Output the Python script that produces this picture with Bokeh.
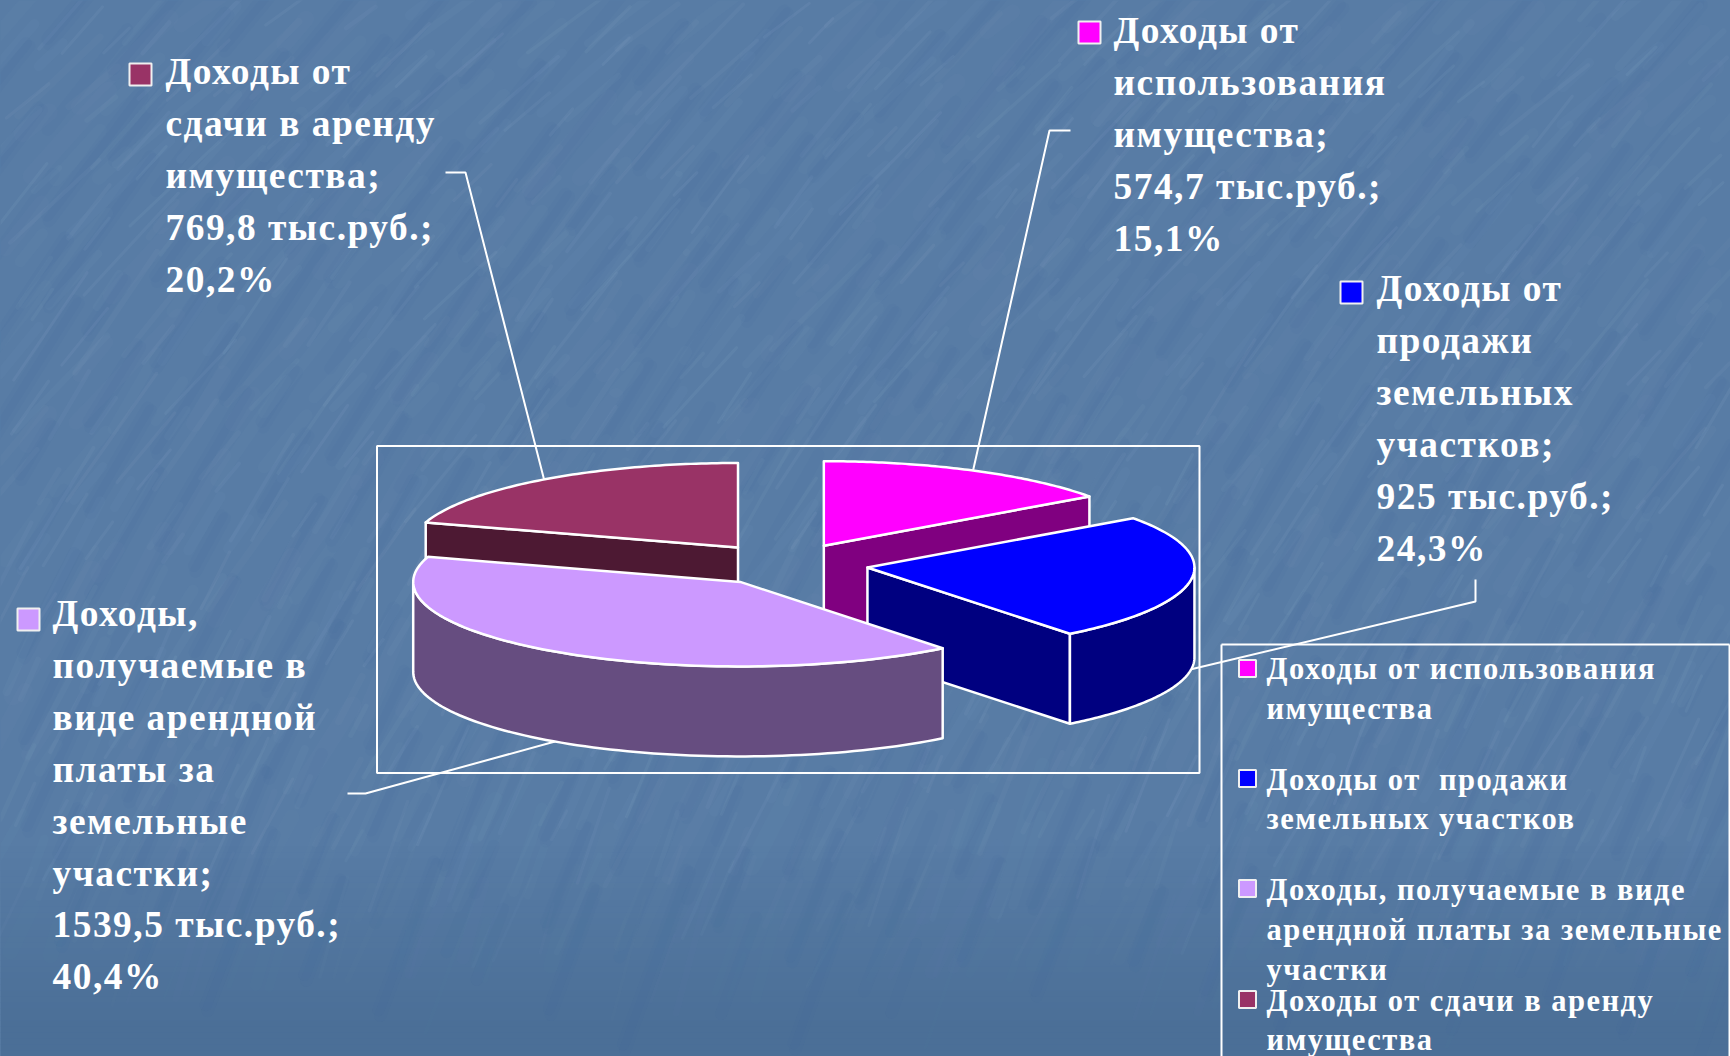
import numpy as np
from bokeh.core.properties import value
from bokeh.embed import file_html
from bokeh.models import GlobalInlineStyleSheet, Range1d
from bokeh.plotting import figure
from bokeh.resources import INLINE

# ---- data ----
categories = ["Доходы от использования имущества", "Доходы от  продажи земельных участков",
              "Доходы, получаемые в виде арендной платы за земельные участки",
              "Доходы от сдачи в аренду имущества"]
income = [574.7, 925.0, 1539.5, 769.8]
income_text = ["574,7", "925", "1539,5", "769,8"]
percent_text = ["15,1%", "24,3%", "40,4%", "20,2%"]
top_colors = ["#FF00FF", "#0000FF", "#CC99FF", "#993366"]
side_colors = ["#800080", "#000080", "#664D80", "#4D1933"]
label_lines = [["Доходы от", "использования", "имущества;"],
               ["Доходы от", "продажи", "земельных", "участков;"],
               ["Доходы,", "получаемые в", "виде арендной", "платы за", "земельные", "участки;"],
               ["Доходы от", "сдачи в аренду", "имущества;"]]
legend_lines = [["Доходы от использования", "имущества"],
                ["Доходы от\u00a0 продажи", "земельных участков"],
                ["Доходы, получаемые в виде", "арендной платы за земельные", "участки"],
                ["Доходы от сдачи в аренду", "имущества"]]

# ---- layout (page pixels) ----
W, H = 1730, 1056
CX, CY, A, B, DEPTH, EXPLODE = 786.0, 564.0, 327.0, 84.5, 90.0, 0.25
label_x = [1113, 1376, 52, 165]
label_y0 = [30, 288, 613, 71]
label_marker = [(1089, 32), (1351, 292), (28, 619), (140, 74)]
leader_bend = [[(1070, 130), (1049, 130)], [(1475, 579), (1475, 601)],
               [(347, 793), (365, 793)], [(445, 172), (465, 172)]]
LABEL_DY = 51.9
legend_base = [[668, 708], [779, 818], [889, 929, 969], [1000, 1039]]
legend_marker_y = [668, 778, 888, 999]
LEGEND_X, LEGEND_MX = 1266, 1247
BASE = "#587ca5"

p = figure(width=W, height=H, output_backend="svg", toolbar_location=None,
           x_range=Range1d(0, W), y_range=Range1d(H, 0), min_border=0,
           x_axis_type=None, y_axis_type=None, outline_line_color=None,
           background_fill_color=BASE, border_fill_color=BASE)
p.grid.visible = False
p.stylesheets = [GlobalInlineStyleSheet(css="html,body{margin:0;padding:0;overflow:hidden;background:%s}" % BASE)]
p.styles = {"letter-spacing": "1.5px", "white-space": "pre"}

# ---- slide background: darker lower band and soft diagonal streaks ----
band_top = np.arange(840, H, 6.0)
band_alpha = np.clip((band_top - 840) / 190, 0, 1)
band_colors = ["#%02x%02x%02x" % (int(88 - 13 * a), int(124 - 13 * a), int(165 - 14 * a)) for a in band_alpha]
p.quad(left=0, right=W, top=band_top, bottom=band_top + 6.5, fill_color=band_colors, line_color=None)

n = np.arange(1, 1301)
u1, u2, u3, u4, u5 = [(n * k) % 1.0 for k in (0.7548777, 0.5698403, 0.6180340, 0.4142136, 0.7320508)]
sx, sy = u1 * W, u2 * 1010
fade = np.clip((1000 - sy) / 220, 0.0, 1.0)
slope = np.radians(42 + 30 * sy / H + 14 * (u5 - 0.5))
length = 16 + 62 * u3**2
width = 3 + 15 * (1 - u4)**2
alpha = (0.028 + 0.065 * u4**2) * fade
dx, dy = np.cos(slope) * length, np.sin(slope) * length
p.multi_line(xs=[[a - c, a + c] for a, c in zip(sx, dx)], ys=[[b + c, b - c] for b, c in zip(sy, dy)],
             line_color="#a8c0da", line_width=list(width), line_alpha=list(alpha), line_cap="round")
m = np.arange(1, 501)
v1, v2, v3 = [(m * k) % 1.0 for k in (0.3247180, 0.8191725, 0.2360680)]
dsx, dsy = v1 * W, v2 * 980
slope2 = np.radians(50 + 22 * dsy / H)
dl = 25 + 70 * v3
p.multi_line(xs=[[a - np.cos(s) * l, a + np.cos(s) * l] for a, s, l in zip(dsx, slope2, dl)],
             ys=[[b + np.sin(s) * l, b - np.sin(s) * l] for b, s, l in zip(dsy, slope2, dl)],
             line_color="#3f6894", line_width=12, line_alpha=0.05, line_cap="round")

# ---- plot-area rectangle ----
p.quad(left=376.5, right=1199, top=445.5, bottom=772.5, fill_color=None, line_color="white", line_width=2)

# ---- 3D exploded pie: every angle comes from the income values ----
total = sum(income)
edges = np.concatenate([[0.0], np.cumsum(income) / total * 2 * np.pi])

apexes = []
for i in range(4):
    mid = (edges[i] + edges[i + 1]) / 2
    apexes.append((CX + A * EXPLODE * np.sin(mid), CY - B * EXPLODE * np.cos(mid)))


def arc(t0, t1, apex):
    th = np.linspace(t0, t1, 80)
    return apex[0] + A * np.sin(th), apex[1] - B * np.cos(th)


def draw(xs_, ys_, color):
    p.patch(list(xs_), list(ys_), fill_color=color, line_color="white", line_width=2.5, line_join="round")


def wedge(i):
    t0, t1, apex = edges[i], edges[i + 1], apexes[i]
    for th in (t0, t1):
        ex, ey = arc(th, th, apex)
        ex, ey = ex[0], ey[0]
        facing = (i == 0 and th == t1) or (i == 1 and th == t1) or (i == 3 and th == t0)
        if facing:
            draw([apex[0], ex, ex, apex[0]], [apex[1], ey, ey + DEPTH, apex[1] + DEPTH], side_colors[i])
    lo, hi = max(t0, np.pi / 2), min(t1, 3 * np.pi / 2)
    if lo < hi:
        ax, ay = arc(lo, hi, apex)
        draw(np.r_[ax, ax[::-1]], np.r_[ay, ay[::-1] + DEPTH], side_colors[i])
    ax, ay = arc(t0, t1, apex)
    draw(np.r_[apex[0], ax], np.r_[apex[1], ay], top_colors[i])


# ---- leader lines, drawn under the pie and ending on each slice's mid-angle ----
for i in range(4):
    mid = (edges[i] + edges[i + 1]) / 2
    ex, ey = arc(mid, mid, apexes[i])
    drop = DEPTH if np.pi / 2 < mid < 3 * np.pi / 2 else 0.0
    pts = leader_bend[i] + [(ex[0], ey[0] + drop)]
    p.line([q[0] for q in pts], [q[1] for q in pts], line_color="white", line_width=2)

for i in (0, 3, 1, 2):
    wedge(i)

font = value("Liberation Serif")


def put_text(xs_, ys_, texts, size):
    p.text(x=xs_, y=ys_, text=texts, text_color="white", text_font=font, text_font_style="bold",
           text_font_size=size, text_baseline="alphabetic", text_align="left")


# ---- data labels ----
for i in range(4):
    lines = label_lines[i] + [f"{income_text[i]} тыс.руб.;", percent_text[i]]
    put_text([label_x[i]] * len(lines), [label_y0[i] + k * LABEL_DY for k in range(len(lines))], lines, "37.4px")
    p.scatter([label_marker[i][0]], [label_marker[i][1]], marker="square", size=22,
              fill_color=top_colors[i], line_color="#f0f0f0", line_width=2)

# ---- legend ----
p.line([1221, 1221], [H, 644], line_color="white", line_width=2)
p.line([1221, 1729], [644, 644], line_color="white", line_width=2)
p.line([1729, 1729], [644, H], line_color="white", line_width=2)
for i in range(4):
    put_text([LEGEND_X] * len(legend_lines[i]), legend_base[i], legend_lines[i], "30.5px")
    p.scatter([LEGEND_MX], [legend_marker_y[i]], marker="square", size=17,
              fill_color=top_colors[i], line_color="#f0f0f0", line_width=2)

open("out.html", "w").write(file_html(p, INLINE))
